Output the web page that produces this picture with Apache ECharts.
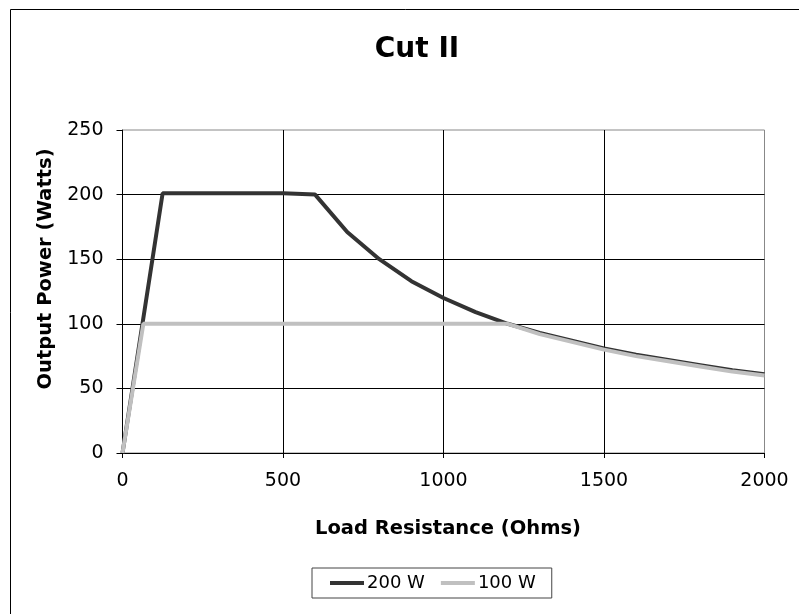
<!DOCTYPE html>
<html>
<head>
<meta charset="utf-8">
<script src="https://cdn.jsdelivr.net/npm/echarts@6/dist/echarts.min.js"></script>
<style>
html,body{margin:0;padding:0;background:#fff;}
#chart{width:799px;height:614px;}
</style>
</head>
<body>
<div id="chart"></div>
<script>
const titleText = 'Cut II';
const xName = 'Load Resistance (Ohms)';
const yName = 'Output Power (Watts)';
const seriesNames = ['200 W', '100 W'];
// [resistance, power]
const resistance200 = [0, 125, 500, 600, 700, 800, 900, 1000, 1100, 1200, 1300, 1400, 1500, 1600, 1700, 1800, 1900, 2000];
const power200 =      [0, 201, 201, 200, 171, 150, 133, 120, 109, 100, 93, 87, 81, 76, 72, 68, 64, 61];
const resistance100 = [0, 65, 500, 1000, 1200, 1300, 1400, 1500, 1600, 1700, 1800, 1900, 2000];
const power100 =      [0, 100, 100, 100, 100, 92, 86, 80, 75, 71, 67, 63, 60];
const xTicks = [0, 500, 1000, 1500, 2000];
const yTicks = [0, 50, 100, 150, 200, 250];

const pairs = (xs, ys) => xs.map((x, i) => [x, ys[i]]);
const FONT = 'DejaVu Sans';

const chart = echarts.init(document.getElementById('chart'), null, {renderer: 'canvas'});
chart.setOption({
  animation: false,
  backgroundColor: '#fff',
  textStyle: {fontFamily: FONT},
  title: {
    text: titleText,
    left: 412,
    textAlign: 'center',
    top: 31,
    textStyle: {fontFamily: FONT, fontSize: 28, fontWeight: 'bold', color: '#000'}
  },
  graphic: [{
    type: 'rect',
    shape: {x: 10.5, y: 9.5, width: 820, height: 640},
    style: {fill: 'none', stroke: '#000', lineWidth: 1},
    silent: true
  }],
  grid: {
    left: 122.5, right: 34.5, top: 130, bottom: 161,
    show: true, borderColor: '#888', borderWidth: 1, backgroundColor: 'transparent'
  },
  legend: {
    data: seriesNames,
    left: 312, top: 568,
    borderColor: '#444', borderWidth: 1,
    padding: [6, 16, 6, 18],
    itemGap: 16,
    itemWidth: 34, itemHeight: 4,
    icon: 'rect',
    textStyle: {fontFamily: FONT, fontSize: 18, color: '#000', padding: [0, 0, 0, -2]}
  },
  xAxis: {
    type: 'value',
    min: xTicks[0], max: xTicks[xTicks.length - 1], interval: 500,
    name: xName, nameLocation: 'middle', nameGap: 66,
    nameTextStyle: {fontFamily: FONT, fontSize: 19.5, fontWeight: 'bold', color: '#000', padding: [0, 0, 0, 9]},
    axisLine: {show: true, lineStyle: {color: '#000', width: 1}},
    axisTick: {show: true, length: 5, lineStyle: {color: '#000'}},
    axisLabel: {fontFamily: FONT, fontSize: 19, color: '#000', margin: 19, formatter: v => String(v)},
    splitLine: {show: true, showMaxLine: false, lineStyle: {color: '#000', width: 1}}
  },
  yAxis: {
    type: 'value',
    min: yTicks[0], max: yTicks[yTicks.length - 1], interval: 50,
    name: yName, nameLocation: 'middle', nameGap: 65,
    nameTextStyle: {fontFamily: FONT, fontSize: 19.5, fontWeight: 'bold', color: '#000', padding: [0, 0, 0, 45]},
    axisLine: {show: true, lineStyle: {color: '#000', width: 1}},
    axisTick: {show: true, length: 6, lineStyle: {color: '#000'}},
    axisLabel: {fontFamily: FONT, fontSize: 19, color: '#000', margin: 19, formatter: v => String(v)},
    splitLine: {show: true, showMaxLine: false, lineStyle: {color: '#000', width: 1}}
  },
  series: [
    {
      name: seriesNames[0], type: 'line', symbol: 'none',
      data: pairs(resistance200, power200),
      lineStyle: {color: '#333333', width: 4},
      itemStyle: {color: '#333333'}
    },
    {
      name: seriesNames[1], type: 'line', symbol: 'none',
      data: pairs(resistance100, power100),
      lineStyle: {color: '#c0c0c0', width: 4},
      itemStyle: {color: '#c0c0c0'}
    }
  ]
});
</script>
</body>
</html>
